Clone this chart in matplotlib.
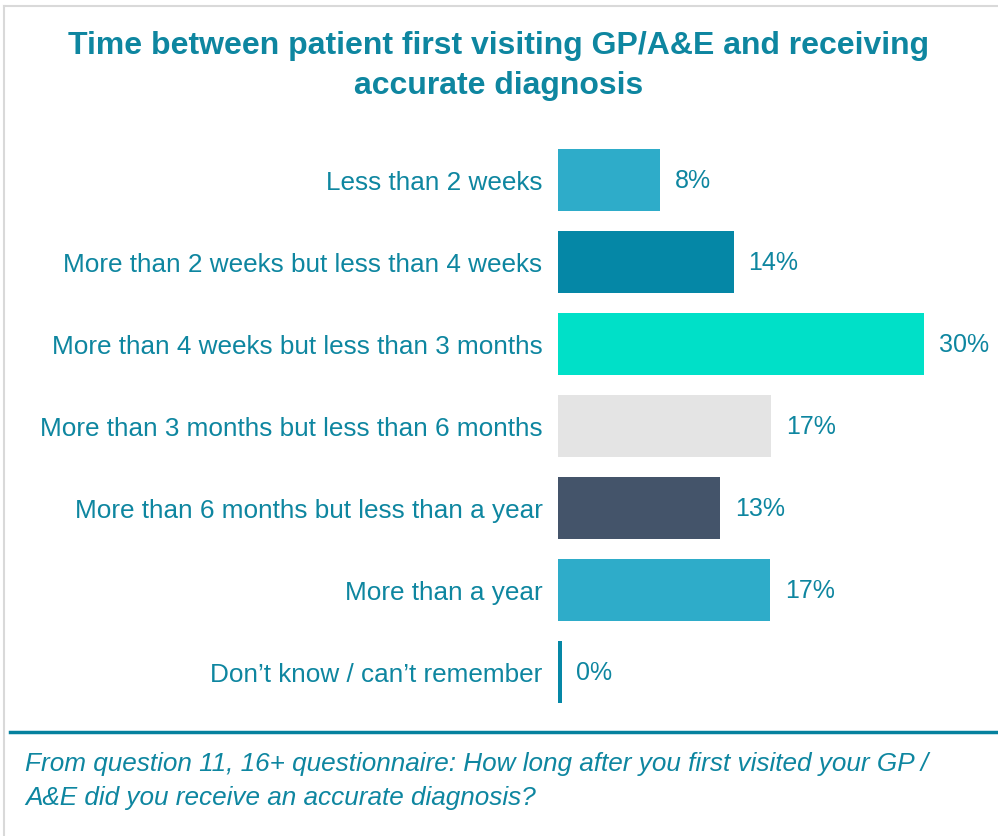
import matplotlib.pyplot as plt
from matplotlib.lines import Line2D

categories = ['Less than 2 weeks',
              'More than 2 weeks but less than 4 weeks',
              'More than 4 weeks but less than 3 months',
              'More than 3 months but less than 6 months',
              'More than 6 months but less than a year',
              'More than a year',
              'Don\u2019t know / can\u2019t remember']
values = [8.4, 14.4, 30.0, 17.5, 13.3, 17.4, 0.3]
labels = ['8%', '14%', '30%', '17%', '13%', '17%', '0%']
colors = ['#2EACC9', '#0587A6', '#00E0C8', '#E4E4E4', '#44546A', '#2EACC9', '#0587A6']

TEAL = '#0E86A0'
plt.rcParams['font.family'] = ['Liberation Sans', 'DejaVu Sans']

fig = plt.figure(figsize=(9.98, 8.37), dpi=100)
ax = fig.add_axes([0.559, 0.147, 0.428, 0.686])

y = list(range(len(categories)))
ax.barh(y, values, height=0.75, color=colors)
for yi, v, lab in zip(y, values, labels):
    ax.text(v + 1.2, yi, lab, va='center', ha='left', fontsize=18, color=TEAL)

ax.set_yticks(y)
ax.set_yticklabels(categories, fontsize=18.8, color=TEAL)
ax.tick_params(axis='y', length=0, pad=11)
ax.set_xticks([])
ax.set_xlim(0, 35)
ax.set_ylim(len(categories) - 0.5, -0.5)
for s in ax.spines.values():
    s.set_visible(False)

fig.text(0.5, 0.963, 'Time between patient first visiting GP/A&E and receiving\naccurate diagnosis',
         ha='center', va='top', fontsize=23, fontweight='bold', color=TEAL, linespacing=1.45)

# frame and separator
fig.add_artist(Line2D([0.004, 0.004], [0, 0.992], color='#D9D9D9', lw=1.5))
fig.add_artist(Line2D([0.004, 1], [0.992, 0.992], color='#D9D9D9', lw=1.5))
fig.add_artist(Line2D([0.01, 1], [0.124, 0.124], color='#05819E', lw=2.5))

fig.text(0.025, 0.102, 'From question 11, 16+ questionnaire: How long after you first visited your GP /\nA&E did you receive an accurate diagnosis?',
         ha='left', va='top', fontsize=18.8, style='italic', color=TEAL, linespacing=1.55)

fig.savefig('out.png', dpi=100, facecolor='white')
